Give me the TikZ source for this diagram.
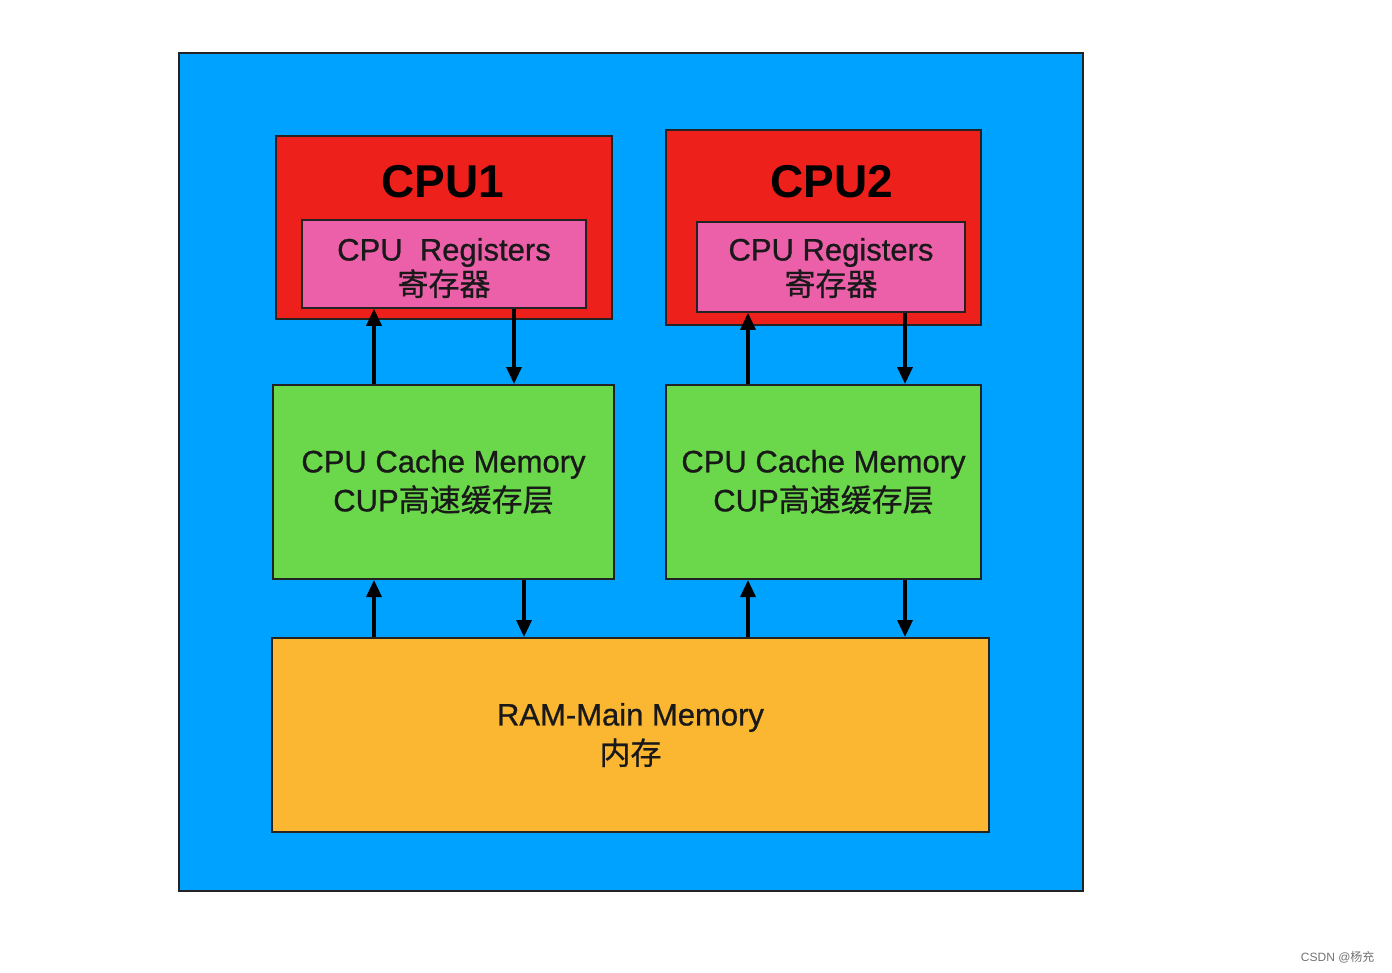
\documentclass[tikz,border=0pt]{standalone}
\usepackage{fontspec}
\setmainfont{Liberation Sans}
\newfontfamily\cjk{Noto Sans CJK SC}
\newfontfamily\medfont[FakeBold=0.8]{Liberation Sans}
\newfontfamily\cjkmed[FakeBold=0.6]{Noto Sans CJK SC}
\usetikzlibrary{arrows.meta}
\definecolor{bgblue}{RGB}{0,162,255}
\definecolor{cpured}{RGB}{237,32,28}
\definecolor{regpink}{RGB}{236,96,170}
\definecolor{cachegreen}{RGB}{106,216,74}
\definecolor{ramorange}{RGB}{251,183,50}
\definecolor{edge}{RGB}{35,35,35}
\tikzset{
  box/.style={draw=edge, line width=2pt, inner sep=0pt, rectangle},
  txt/.style={align=center, font=\medfont\fontsize{31}{39}\selectfont, text=black!90},
  title/.style={font=\fontsize{46}{50}\selectfont\bfseries},
  arr/.style={line width=3.2pt, -{Triangle[length=17pt,width=15pt]}},
}
\begin{document}
\begin{tikzpicture}[x=1pt,y=-1pt]
\useasboundingbox (0,0) rectangle (1392,972);
\fill[white] (0,0) rectangle (1392,972);
% outer
\node[box, fill=bgblue, minimum width=904pt, minimum height=838pt] (outer) at (631,472) {};
% CPU boxes
\node[box, fill=cpured, minimum width=336pt, minimum height=183pt] (cpu1) at (444,227.5) {};
\node[box, fill=cpured, minimum width=315pt, minimum height=195pt] (cpu2) at (823.5,227.5) {};
\node[title] (t1) at (443,182) {CPU1};
\node[title] (t2) at (832,182) {CPU2};
% registers
\node[box, fill=regpink, minimum width=284pt, minimum height=88pt, line width=1.5pt] (r1) at (444,264) {};
\node[box, fill=regpink, minimum width=268pt, minimum height=90pt, line width=1.5pt] (r2) at (831,267) {};
\node[txt] (r1t) at (r1) [yshift=-4pt] {CPU\ \ Registers\\[-4pt]{\cjkmed 寄存器}};
\node[txt] (r2t) at (r2) [yshift=-1pt] {CPU Registers\\[-4pt]{\cjkmed 寄存器}};
% caches
\node[box, fill=cachegreen, minimum width=341pt, minimum height=194pt, txt] (c1) at (443.5,482) {CPU Cache Memory\\{CUP\cjkmed 高速缓存层}};
\node[box, fill=cachegreen, minimum width=315pt, minimum height=194pt, txt] (c2) at (823.5,482) {CPU Cache Memory\\{CUP\cjkmed 高速缓存层}};
% RAM
\node[box, fill=ramorange, minimum width=717pt, minimum height=194pt, txt] (ram) at (630.5,735) {RAM-Main Memory\\{\cjkmed 内存}};
% arrow x positions
\coordinate (a1) at (374,0);
\coordinate (a2) at (514,0);
\coordinate (a3) at (748,0);
\coordinate (a4) at (905,0);
\coordinate (a5) at (524,0);
% cache <-> registers
\draw[arr] (c1.north -| a1) -- (r1.south -| a1);
\draw[arr] (r1.south -| a2) -- (c1.north -| a2);
\draw[arr] (c2.north -| a3) -- (r2.south -| a3);
\draw[arr] (r2.south -| a4) -- (c2.north -| a4);
% RAM <-> cache
\draw[arr] (ram.north -| a1) -- (c1.south -| a1);
\draw[arr] (c1.south -| a5) -- (ram.north -| a5);
\draw[arr] (ram.north -| a3) -- (c2.south -| a3);
\draw[arr] (c2.south -| a4) -- (ram.north -| a4);
% watermark
\node[anchor=east, text=black!55, font=\fontsize{12}{14}\selectfont] (wm) at (1378,957) {CSDN @{\cjk 杨充}};
\end{tikzpicture}
\end{document}
